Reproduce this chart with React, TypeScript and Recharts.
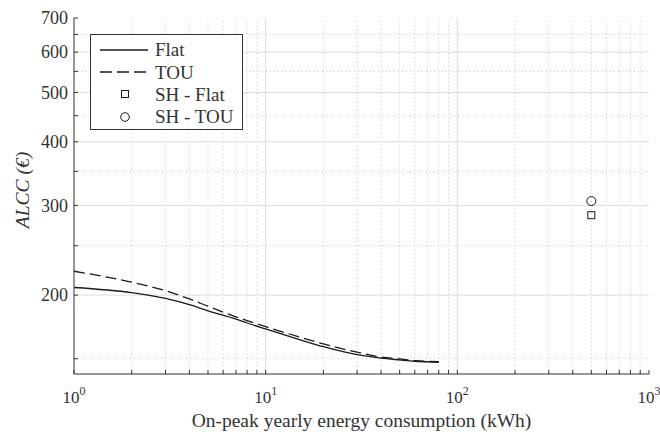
import React from 'react';
import { ComposedChart, Line, Scatter, XAxis, YAxis, ReferenceLine, Legend } from 'recharts';

// ---- data ----
const xValues = [1, 2, 3, 4, 5, 7, 8, 10, 15, 20, 30, 40, 50, 60, 80];
const flatValues = [207.0, 202.2, 197.0, 191.5, 186.3, 179.5, 176.3, 171.6, 163.6, 158.4, 152.8, 150.4, 149.2, 148.3, 147.6];
const touValues = [222.8, 212.0, 204.0, 196.6, 190.2, 181.3, 178.2, 173.4, 165.5, 160.4, 154.5, 151.2, 149.9, 148.7, 148.1];

const shX = [500];
const shFlatValues = [287];
const shTouValues = [306];

const xTicks = [1, 2, 3, 4, 5, 6, 7, 8, 9, 10, 20, 30, 40, 50, 60, 70, 80, 90, 100, 200, 300, 400, 500, 600, 700, 800, 900, 1000];
const xMajor = [1, 10, 100, 1000];
const yTicks = [150, 200, 250, 300, 350, 400, 450, 500, 550, 600, 650, 700];
const yLabels = [200, 300, 400, 500, 600, 700];

const xAxisTitle = 'On-peak yearly energy consumption (kWh)';
const yAxisTitle = 'ALCC (€)';
const seriesNames = ['Flat', 'TOU', 'SH - Flat', 'SH - TOU'];

const flatData = xValues.map((x, i) => ({ x, y: flatValues[i] }));
const touData = xValues.map((x, i) => ({ x, y: touValues[i] }));
const shFlatData = shX.map((x, i) => ({ x, y: shFlatValues[i] }));
const shTouData = shX.map((x, i) => ({ x, y: shTouValues[i] }));

const FONT = 'Liberation Serif, DejaVu Serif, serif';
const AXIS = '#333';
const TEXT = '#333';
const LINE = '#1a1a1a';
const GRID_MAJOR = '#dcdcdc';
const GRID_MINOR = '#c8c8c8';

const txt = (size: number, italic = false): React.CSSProperties => ({
  fontFamily: FONT,
  fontSize: size,
  fontStyle: italic ? 'italic' : 'normal',
  fill: TEXT,
});

const BottomTick = (props: any) => {
  const { x, y, payload } = props;
  const v = payload.value;
  const major = xMajor.includes(v);
  const exp = Math.round(Math.log10(v));
  return (
    <g>
      <line x1={x} y1={y} x2={x} y2={y - 4} stroke={AXIS} strokeWidth={1} />
      {major && (
        <text x={x} y={y + 29} textAnchor="middle" style={txt(17)}>
          10<tspan dy={-8} style={{ fontSize: 12 }}>{exp}</tspan>
        </text>
      )}
    </g>
  );
};

const TopTick = (props: any) => {
  const { x, y } = props;
  return <line x1={x} y1={y} x2={x} y2={y + 4} stroke={AXIS} strokeWidth={1} />;
};

const LeftTick = (props: any) => {
  const { x, y, payload } = props;
  const v = payload.value;
  return (
    <g>
      <line x1={x} y1={y} x2={x + 4} y2={y} stroke={AXIS} strokeWidth={1} />
      {yLabels.includes(v) && (
        <text x={x - 6} y={y} dy="0.35em" textAnchor="end" style={txt(18)}>
          {v}
        </text>
      )}
    </g>
  );
};

const RightTick = (props: any) => {
  const { x, y } = props;
  return <line x1={x} y1={y} x2={x - 4} y2={y} stroke={AXIS} strokeWidth={1} />;
};

const LegendBox = () => (
  <svg width={153} height={96} style={{ display: 'block' }}>
    <rect x={0.5} y={0.5} width={152} height={95} fill="#fff" stroke={AXIS} strokeWidth={1} />
    <line x1={10} y1={16} x2={58} y2={16} stroke={LINE} strokeWidth={1.3} />
    <text x={65} y={22} style={txt(19)}>{seriesNames[0]}</text>
    <line x1={10} y1={38} x2={58} y2={38} stroke={LINE} strokeWidth={1.3} strokeDasharray="12 5" />
    <text x={65} y={45} style={txt(19)}>{seriesNames[1]}</text>
    <rect x={31.5} y={56.5} width={7} height={7} fill="none" stroke={LINE} strokeWidth={1} />
    <text x={65} y={67} style={txt(19)}>{seriesNames[2]}</text>
    <circle cx={35} cy={83} r={4.3} fill="none" stroke={LINE} strokeWidth={1} />
    <text x={65} y={89} style={txt(19)}>{seriesNames[3]}</text>
  </svg>
);

const SquareShape = (p: any) => (
  <rect x={p.cx - 3.5} y={p.cy - 3.5} width={7} height={7} fill="none" stroke={LINE} strokeWidth={1} />
);
const CircleShape = (p: any) => (
  <circle cx={p.cx} cy={p.cy} r={4.5} fill="none" stroke={LINE} strokeWidth={1} />
);

export default function App() {
  const xMinor = xTicks.filter((v) => !xMajor.includes(v));
  const yMajorGrid = yLabels.filter((v) => v !== 700);
  const yMinorGrid = yTicks.filter((v) => !yLabels.includes(v));
  return (
    <div style={{ position: 'absolute', left: 0, top: 0, width: 660, height: 434, background: '#fff' }}>
      <ComposedChart width={660} height={434} margin={{ top: 18, right: 11, left: 0, bottom: 0 }}>
        <XAxis
          xAxisId={0}
          dataKey="x"
          type="number"
          scale="log"
          domain={[1, 1000]}
          allowDataOverflow
          ticks={xTicks}
          interval={0}
          height={60}
          tickSize={0}
          tickMargin={0}
          tickLine={false}
          tick={<BottomTick />}
          axisLine={{ stroke: AXIS, strokeWidth: 1 }}
          label={{
            content: () => (
              <text x={(74 + 649) / 2} y={427} textAnchor="middle" style={txt(19.5)}>
                {xAxisTitle}
              </text>
            ),
          }}
        />
        <XAxis
          xAxisId="top"
          orientation="top"
          dataKey="x"
          type="number"
          scale="log"
          domain={[1, 1000]}
          allowDataOverflow
          ticks={xTicks}
          interval={0}
          height={0}
          tickSize={0}
          tickMargin={0}
          tickLine={false}
          tick={<TopTick />}
          axisLine={{ stroke: AXIS, strokeWidth: 1 }}
        />
        <YAxis
          yAxisId={0}
          dataKey="y"
          type="number"
          scale="log"
          domain={[140, 700]}
          allowDataOverflow
          ticks={yTicks}
          interval={0}
          width={74}
          tickSize={0}
          tickMargin={0}
          tickLine={false}
          tick={<LeftTick />}
          axisLine={{ stroke: AXIS, strokeWidth: 1 }}
          label={{
            content: () => (
              <text x={29} y={190} transform="rotate(-90 29 190)" textAnchor="middle" style={txt(19.5, true)}>
                {yAxisTitle}
              </text>
            ),
          }}
        />
        <YAxis
          yAxisId="right"
          orientation="right"
          dataKey="y"
          type="number"
          scale="log"
          domain={[140, 700]}
          allowDataOverflow
          ticks={yTicks}
          interval={0}
          width={0}
          tickSize={0}
          tickMargin={0}
          tickLine={false}
          tick={<RightTick />}
          axisLine={{ stroke: AXIS, strokeWidth: 1 }}
        />

        {xMinor.map((v) => (
          <ReferenceLine key={'xm' + v} x={v} xAxisId={0} yAxisId={0} stroke={GRID_MINOR} strokeWidth={1} strokeDasharray="1 3" />
        ))}
        {[10, 100].map((v) => (
          <ReferenceLine key={'xM' + v} x={v} xAxisId={0} yAxisId={0} stroke={GRID_MAJOR} strokeWidth={1} />
        ))}
        {yMinorGrid.map((v) => (
          <ReferenceLine key={'ym' + v} y={v} xAxisId={0} yAxisId={0} stroke={GRID_MINOR} strokeWidth={1} strokeDasharray="1 3" />
        ))}
        {yMajorGrid.map((v) => (
          <ReferenceLine key={'yM' + v} y={v} xAxisId={0} yAxisId={0} stroke={GRID_MAJOR} strokeWidth={1} />
        ))}

        <Line
          data={flatData}
          dataKey="y"
          name={seriesNames[0]}
          type="monotone"
          stroke={LINE}
          strokeWidth={1.3}
          dot={false}
          activeDot={false}
          isAnimationActive={false}
        />
        <Line
          data={touData}
          dataKey="y"
          name={seriesNames[1]}
          type="monotone"
          stroke={LINE}
          strokeWidth={1.3}
          strokeDasharray="11 5"
          dot={false}
          activeDot={false}
          isAnimationActive={false}
        />
        <Scatter data={shFlatData} dataKey="y" name={seriesNames[2]} shape={SquareShape} isAnimationActive={false} />
        <Scatter data={shTouData} dataKey="y" name={seriesNames[3]} shape={CircleShape} isAnimationActive={false} />

        <Legend
          layout="vertical"
          align="center"
          verticalAlign="middle"
          content={() => <LegendBox />}
          wrapperStyle={{ left: 90, top: 34, width: 153, height: 96 }}
        />
      </ComposedChart>
    </div>
  );
}
